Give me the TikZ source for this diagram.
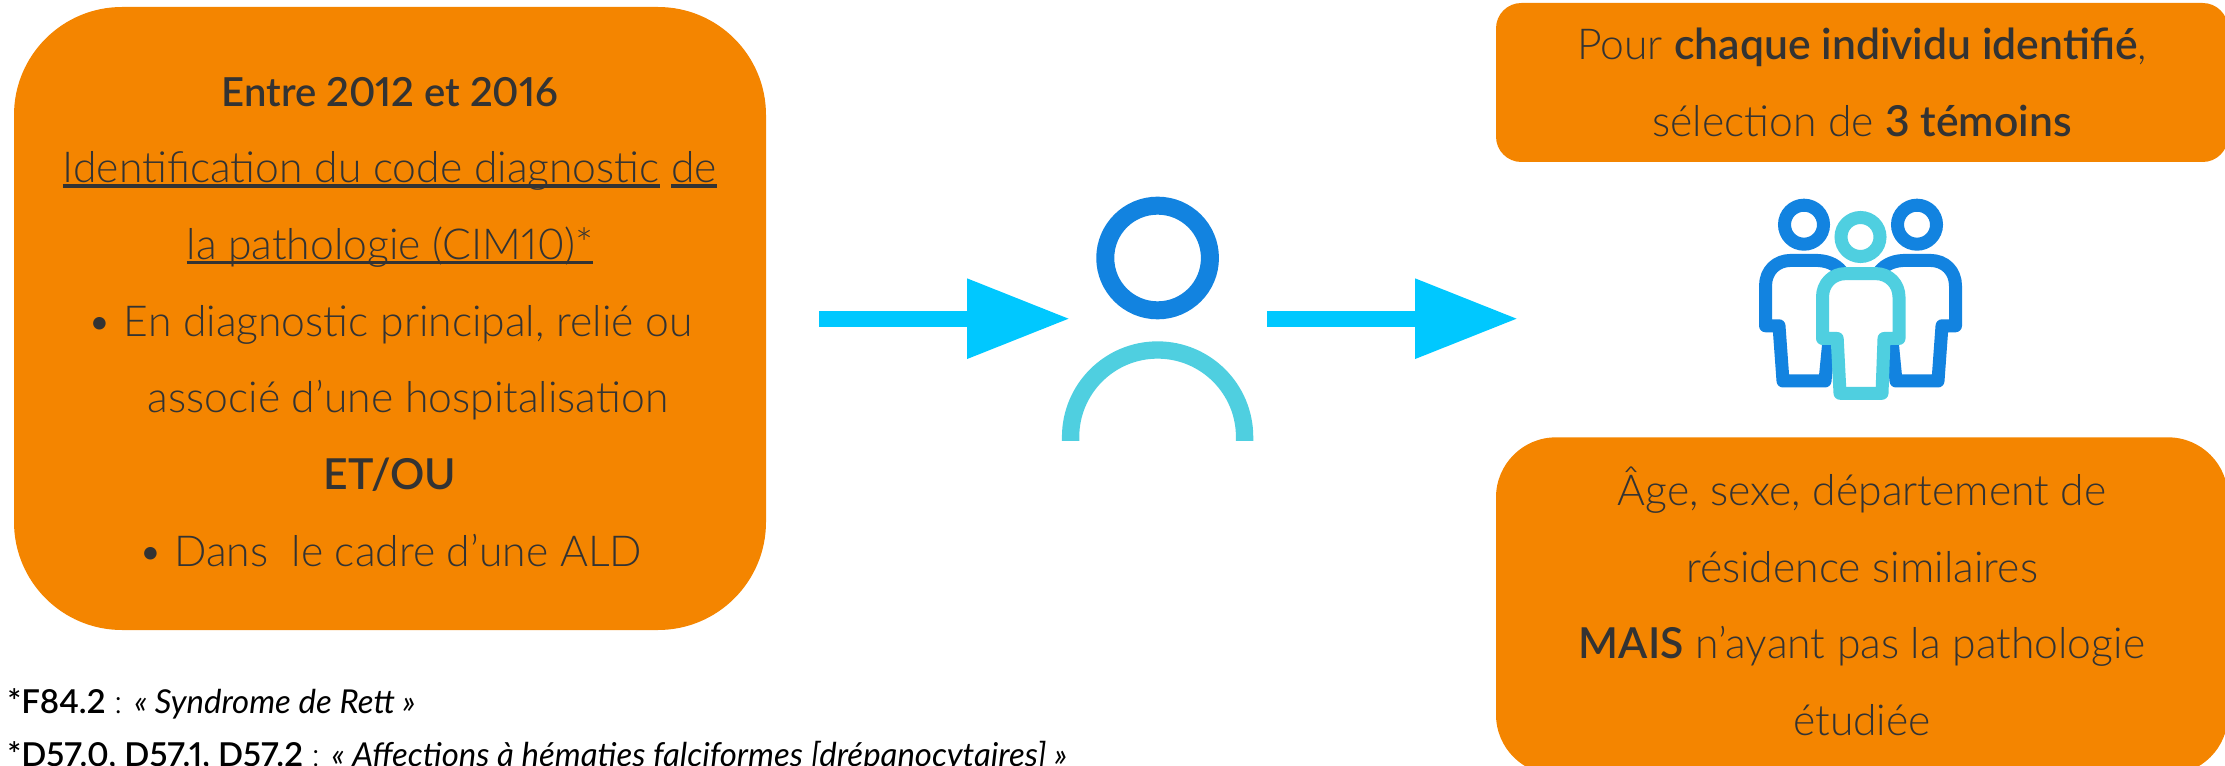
\documentclass[tikz,border=0pt]{standalone}
\usepackage{fontspec}
\setmainfont{Lato}[UprightFont=* Light,BoldFont=* Semibold,ItalicFont=* Italic,Numbers=Proportional]
\usetikzlibrary{arrows.meta,positioning}

\definecolor{boxorange}{HTML}{F48500}
\definecolor{arrowcyan}{HTML}{00C8FF}
\definecolor{iconblue}{HTML}{1283E0}
\definecolor{iconcyan}{HTML}{4FCFE0}
\definecolor{textgray}{HTML}{333333}

\newcommand{\uln}[1]{\setbox0\hbox{#1}\rlap{\rule[-3.4pt]{\wd0}{2.4pt}}\box0\relax}

\begin{document}
\begin{tikzpicture}[
    x=0.75pt, y=-0.75pt,
    orangebox/.style={rectangle, fill=boxorange, inner sep=0pt, outer sep=0pt, align=center, text=textgray,
        font=\fontsize{32}{57.5}\selectfont},
    bigarrow/.style={-{Triangle[length=77.25pt, width=57pt]}, arrowcyan, line width=12pt},
    ring/.style={circle, draw, fill=white, inner sep=0pt, outer sep=0pt},
    iconline/.style={line width=9.75pt, line join=round, fill=none},
    footnote/.style={anchor=base west, inner sep=0pt, text=black, font=\fontsize{24.7}{28}\selectfont}
]
\useasboundingbox (0,0) rectangle (2225,766);
\clip (0,0) rectangle (2225,766);

% Boxes
\node[orangebox, rounded corners=81pt, minimum width=564pt, minimum height=467.25pt] (leftbox) at (390,318.5) {
    \rule{0pt}{27pt}\textbf{\fontsize{30}{57.5}\selectfont Entre 2012 et 2016}\\
    \uln{Identification du code diagnostic} \uln{de}\\
    \uln{la pathologie (CIM10)*}\\
    • En diagnostic principal, relié ou\\
    \hspace*{27pt}associé d’une hospitalisation\\
    \textbf{ET/OU}\\
    • Dans~ le cadre d’une ALD};
\node[orangebox, rounded corners=19pt, minimum width=549pt, minimum height=119.25pt] (topbox) at (1862,82.5) {
    Pour \textbf{chaque individu identifié},\\
    sélection de \textbf{3 témoins}};
\node[orangebox, rounded corners=45pt, minimum width=549pt, minimum height=253pt] (bottombox) at (1862,606) {
    Âge, sexe, département de\\
    résidence similaires\\
    \textbf{MAIS} n’ayant pas la pathologie\\
    étudiée\rule[-7pt]{0pt}{0pt}};

% Footnotes
\node[footnote] (noterett) at (7,713) {\textbf{*F84.2} : \textit{« Syndrome de Rett »}};
\node[footnote] (notefalci) at (7,766) {\textbf{*D57.0, D57.1, D57.2} : \textit{« Affections à hématies falciformes [drépanocytaires] »}};

% Arrows
\coordinate (arrowAin) at (819,318.7);
\coordinate (arrowAout) at (1070,318.7);
\coordinate (arrowBin) at (1267,318.7);
\coordinate (arrowBout) at (1518,318.7);
\draw[bigarrow] (arrowAin) -- (arrowAout);
\draw[bigarrow] (arrowBin) -- (arrowBout);

% Single person
\node[ring, draw=iconblue, line width=13.5pt, minimum size=78.5pt] (personhead) at (1157.6,258) {};
\draw[iconcyan, line width=13pt] (1070.6,441) -- (1070.6,437) arc[start angle=180, end angle=0, radius=65.25pt] -- (1244.6,441);

% Three persons: the two behind
\foreach \s/\n in {-1/l,1/r} {
    \node[ring, draw=iconblue, line width=9.75pt, minimum size=29.25pt] (head\n) at ({1860.5+\s*56.5},224.7) {};
    \draw[iconline, iconblue] ({1860.5+\s*18.5},272) .. controls ({1860.5+\s*25.5},263) and ({1860.5+\s*35.5},260.4) .. ({1860.5+\s*45.5},260.4)
        -- ({1860.5+\s*69.5},260.4) .. controls ({1860.5+\s*84.5},260.4) and ({1860.5+\s*95},271) .. ({1860.5+\s*95},286)
        -- ({1860.5+\s*95},325.8) -- ({1860.5+\s*81.5},325.8) -- ({1860.5+\s*77.5},381) -- ({1860.5+\s*35.5},381) -- ({1860.5+\s*31.5},340);
}

% Three persons: the one in front
\node[ring, draw=iconcyan, line width=9.75pt, minimum size=29.25pt] (headm) at (1860.5,237) {};
\draw[iconline, iconcyan, fill=white] (1845.8,273.6) -- (1875.7,273.6) .. controls (1889,273.6) and (1899,284) .. (1899,297)
    -- (1899,338.5) -- (1884,338.5) -- (1882,393.3) -- (1840,393.3) -- (1837.2,338.5) -- (1822.5,338.5) -- (1822.5,297)
    .. controls (1822.5,284) and (1832,273.6) .. (1845.8,273.6) -- cycle;

\end{tikzpicture}
\end{document}
